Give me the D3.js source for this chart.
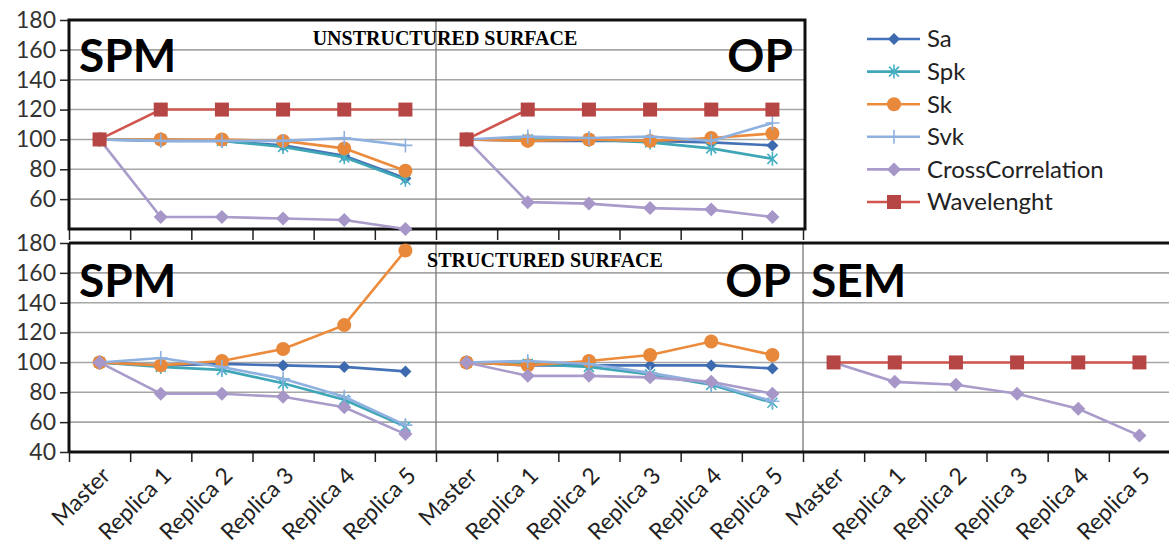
<!DOCTYPE html>
<html>
<head>
<meta charset="utf-8">
<script src="https://cdnjs.cloudflare.com/ajax/libs/d3/7.8.5/d3.min.js"></script>
<style>
  body { margin: 0; background: #fff; }
  svg { display: block; }
</style>
</head>
<body>
<div id="chart"></div>
<script>
var width = 1169, height = 548;

// categories and series
var categories = ["Master", "Replica 1", "Replica 2", "Replica 3", "Replica 4", "Replica 5"];
var seriesNames = ["Sa", "Spk", "Sk", "Svk", "CrossCorrelation", "Wavelenght"];
var yTicks = [40, 60, 80, 100, 120, 140, 160, 180];

// unstructured surface, one row per series (Sa, Spk, Sk, Svk, CrossCorrelation, Wavelenght)
var uSPM = [
  [100, 99, 99, 96, 89, 74],
  [100, 100, 99, 95, 88, 73],
  [100, 100, 100, 99, 94, 79],
  [100, 99, 99, 99, 101, 96],
  [100, 48, 48, 47, 46, 40],
  [100, 120, 120, 120, 120, 120]
];
var uOP = [
  [100, 99, 99, 99, 98, 96],
  [100, 100, 100, 98, 94, 87],
  [100, 99, 100, 99, 101, 104],
  [100, 102, 101, 102, 99, 111],
  [100, 58, 57, 54, 53, 48],
  [100, 120, 120, 120, 120, 120]
];
// structured surface
var sSPM = [
  [100, 98, 99, 98, 97, 94],
  [100, 97, 95, 86, 75, 57],
  [100, 98, 101, 109, 125, 175],
  [100, 103, 97, 89, 77, 58],
  [100, 79, 79, 77, 70, 52],
  null
];
var sOP = [
  [100, 98, 98, 98, 98, 96],
  [100, 99, 97, 92, 85, 73],
  [100, 98, 101, 105, 114, 105],
  [100, 101, 99, 93, 86, 74],
  [100, 91, 91, 90, 87, 79],
  null
];
var sSEM = [null, null, null, null,
  [100, 87, 85, 79, 69, 51],
  [100, 100, 100, 100, 100, 100]
];

var lineColors = ["#4572b6", "#3ea6b6", "#ec8b3c", "#8fb1e0", "#aa9cca", "#d0554f"];
var markColors = ["#3d6aae", "#45b0c4", "#e8883a", "#8fb1e0", "#a797c8", "#b54645"];

var svg = d3.select("#chart").append("svg")
  .attr("width", width).attr("height", height);

var x = d3.scaleBand().domain(d3.range(18)).range([69, 1170]);
var xEdge = d3.scaleLinear().domain([0, 18]).range([69, 1170]);
var yTop = d3.scaleLinear().domain([40, 180]).range([229, 20]);
var yBot = d3.scaleLinear().domain([40, 180]).range([452, 243]);

function marker(sel, i, c) {
  if (i == 0) {
    sel.append("path").attr("d", "M0,-6L6,0L0,6L-6,0Z").attr("fill", c);
  } else if (i == 1) {
    sel.append("path").attr("d", "M-5,-5L5,5M-5,5L5,-5M0,-7L0,7")
      .attr("stroke", c).attr("stroke-width", 1.6).attr("fill", "none");
  } else if (i == 2) {
    sel.append("circle").attr("r", 7).attr("fill", c);
  } else if (i == 3) {
    sel.append("path").attr("d", "M-7,0L7,0M0,-7L0,7")
      .attr("stroke", c).attr("stroke-width", 1.6).attr("fill", "none");
  } else if (i == 4) {
    sel.append("path").attr("d", "M0,-7L7,0L0,7L-7,0Z").attr("fill", c);
  } else {
    sel.append("rect").attr("x", -7).attr("y", -7).attr("width", 14).attr("height", 14).attr("fill", c);
  }
}

// grid + frame for each chart
function drawGrid(y, xr, gridVals) {
  svg.append("g").selectAll("line").data(gridVals).enter().append("line")
    .attr("x1", xr[0]).attr("x2", xr[1])
    .attr("y1", function(d) { return y(d); }).attr("y2", function(d) { return y(d); })
    .attr("stroke", "#a6a6a6").attr("stroke-width", 1.6);
}
drawGrid(yTop, [69, 805], [60, 80, 100, 120, 140, 160]);
drawGrid(yBot, [69, 1169], [60, 80, 100, 120, 140, 160]);

// separators
svg.append("line").attr("x1", xEdge(6)).attr("x2", xEdge(6)).attr("y1", 20).attr("y2", 229)
  .attr("stroke", "#777").attr("stroke-width", 1.3);
[6, 12].forEach(function(k) {
  svg.append("line").attr("x1", xEdge(k)).attr("x2", xEdge(k)).attr("y1", 243).attr("y2", 452)
    .attr("stroke", "#777").attr("stroke-width", 1.3);
});

// y axes
var axTop = svg.append("g").attr("transform", "translate(69,0)")
  .call(d3.axisLeft(yTop).tickValues(yTicks.slice(1)).tickSize(9).tickPadding(4));
var axBot = svg.append("g").attr("transform", "translate(69,0)")
  .call(d3.axisLeft(yBot).tickValues(yTicks).tickSize(9).tickPadding(4));
[axTop, axBot].forEach(function(a) {
  a.select(".domain").remove();
  a.selectAll("line").attr("stroke", "#222").attr("stroke-width", 1.5);
  a.selectAll("text").attr("font-family", "Lato, sans-serif").attr("font-size", "23px").attr("fill", "#333");
});

// x tick marks
svg.append("g").attr("transform", "translate(0,229)")
  .call(d3.axisBottom(xEdge).tickValues(d3.range(13)).tickSize(11).tickFormat(""))
  .call(function(g) { g.select(".domain").remove(); })
  .selectAll("line").attr("stroke", "#222").attr("stroke-width", 1.5);
svg.append("g").attr("transform", "translate(0,452)")
  .call(d3.axisBottom(xEdge).tickValues(d3.range(19)).tickSize(10).tickFormat(""))
  .call(function(g) { g.select(".domain").remove(); })
  .selectAll("line").attr("stroke", "#222").attr("stroke-width", 1.5);

// frames
svg.append("path").attr("d", "M69,229L69,20L805,20L805,229Z")
  .attr("fill", "none").attr("stroke", "#111").attr("stroke-width", 3);
svg.append("line").attr("x1", 69).attr("x2", 1169).attr("y1", 243).attr("y2", 243)
  .attr("stroke", "#111").attr("stroke-width", 3);
svg.append("line").attr("x1", 69).attr("x2", 1169).attr("y1", 452).attr("y2", 452)
  .attr("stroke", "#111").attr("stroke-width", 3);
svg.append("line").attr("x1", 69).attr("x2", 69).attr("y1", 243).attr("y2", 452)
  .attr("stroke", "#111").attr("stroke-width", 3);

// x labels
var allCats = d3.range(18).map(function(i) { return categories[i % 6]; });
svg.append("g").selectAll("text").data(allCats).enter().append("text")
  .attr("transform", function(d, i) {
    return "translate(" + (x(i) + x.bandwidth() / 2 + 12) + ",477) rotate(-45)";
  })
  .attr("text-anchor", "end")
  .attr("font-family", "Lato, sans-serif").attr("font-size", "23px").attr("fill", "#222")
  .text(function(d) { return d; });

// series
function drawPanel(data, start, y) {
  data.forEach(function(vals, s) {
    if (!vals) return;
    var pts = vals.map(function(v, j) { return [x(start + j) + x.bandwidth() / 2, y(v)]; });
    svg.append("path").attr("d", d3.line()(pts))
      .attr("fill", "none").attr("stroke", lineColors[s]).attr("stroke-width", 2.6);
    pts.forEach(function(p) {
      var g = svg.append("g").attr("transform", "translate(" + p[0] + "," + p[1] + ")");
      marker(g, s, markColors[s]);
    });
  });
}
drawPanel(uSPM, 0, yTop);
drawPanel(uOP, 6, yTop);
drawPanel(sSPM, 0, yBot);
drawPanel(sOP, 6, yBot);
drawPanel(sSEM, 12, yBot);

// panel names
var names = [
  ["SPM", 79, 72, "start"], ["OP", 793, 72, "end"],
  ["SPM", 79, 297, "start"], ["OP", 791, 297, "end"], ["SEM", 811, 297, "start"]
];
svg.append("g").selectAll("text").data(names).enter().append("text")
  .attr("x", function(d) { return d[1]; }).attr("y", function(d) { return d[2]; })
  .attr("text-anchor", function(d) { return d[3]; })
  .attr("font-family", "Lato, sans-serif").attr("font-weight", "bold").attr("font-size", "46px")
  .attr("fill", "#000").text(function(d) { return d[0]; });

// titles
svg.append("text").attr("x", 445).attr("y", 45).attr("text-anchor", "middle")
  .attr("font-family", "'Liberation Serif', serif").attr("font-weight", "bold").attr("font-size", "20px")
  .text("UNSTRUCTURED SURFACE");
svg.append("text").attr("x", 545).attr("y", 267).attr("text-anchor", "middle")
  .attr("font-family", "'Liberation Serif', serif").attr("font-weight", "bold").attr("font-size", "20px")
  .text("STRUCTURED SURFACE");

// legend
var legend = svg.append("g").selectAll("g").data(seriesNames).enter().append("g")
  .attr("transform", function(d, i) { return "translate(867," + (39 + i * 32.6) + ")"; });
legend.append("line").attr("x1", 0).attr("x2", 53)
  .attr("stroke", function(d, i) { return lineColors[i]; }).attr("stroke-width", 2.6);
legend.each(function(d, i) {
  var g = d3.select(this).append("g").attr("transform", "translate(27,0)");
  marker(g, i, markColors[i]);
});
legend.append("text").attr("x", 60).attr("dy", "0.35em")
  .attr("font-family", "Lato, sans-serif").attr("font-size", "24px").attr("fill", "#222")
  .text(function(d) { return d; });
</script>
</body>
</html>
